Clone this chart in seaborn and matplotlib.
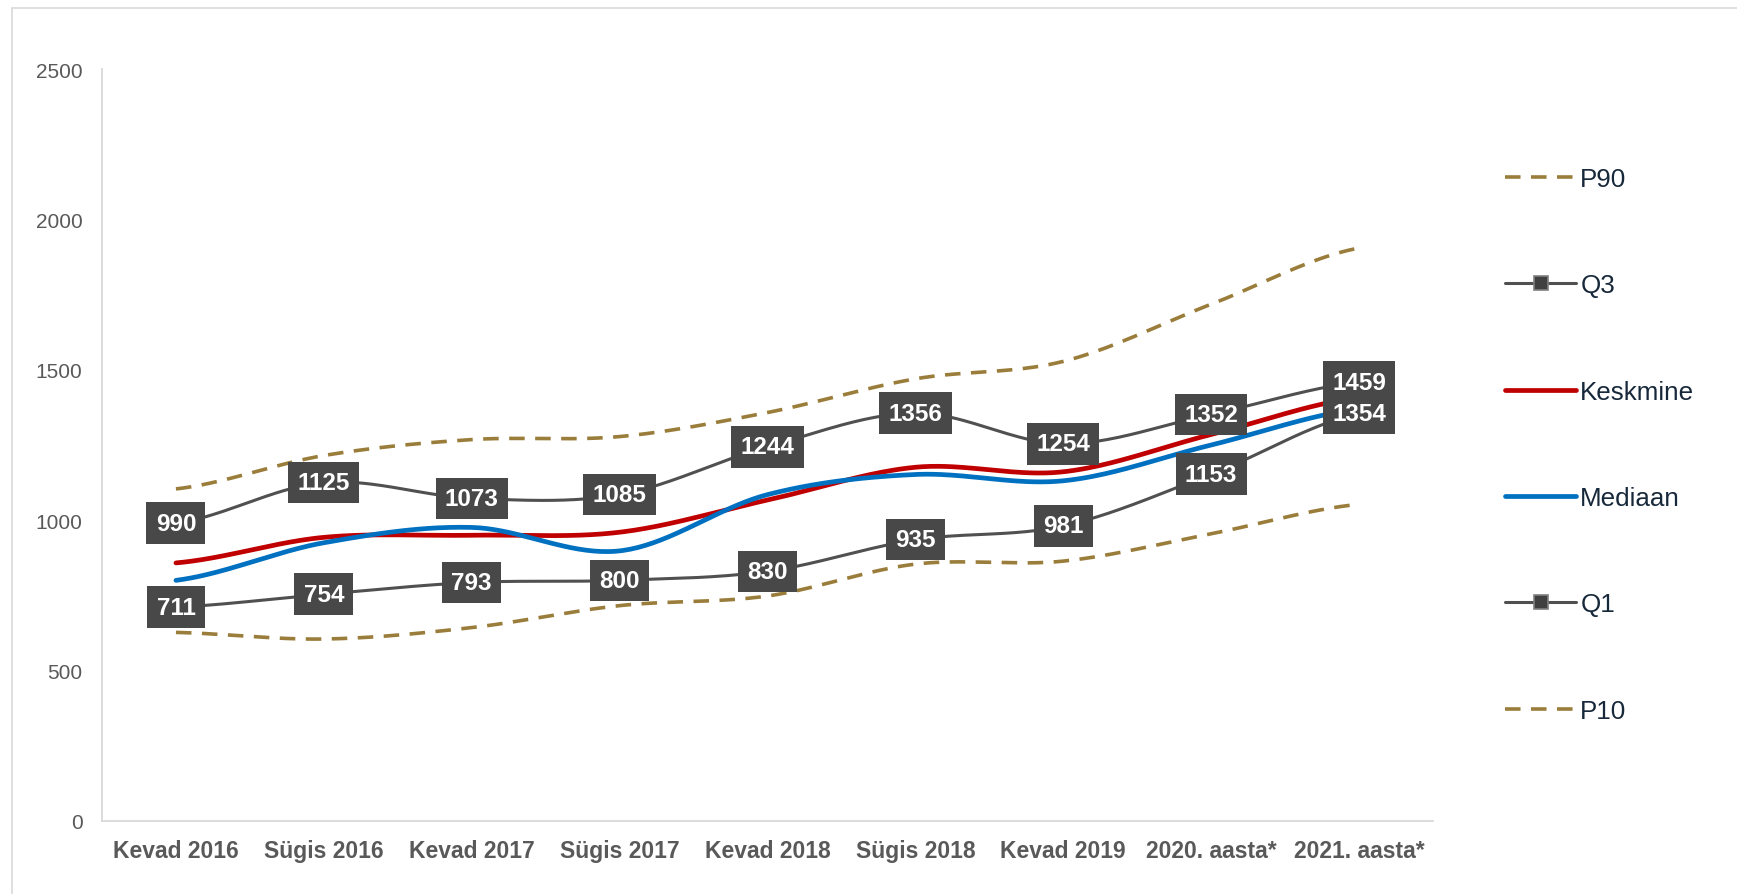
import numpy as np
import matplotlib
matplotlib.use("Agg")
import matplotlib.pyplot as plt
from matplotlib.lines import Line2D
import seaborn as sns

# ---- data ----
categories = ["Kevad 2016", "Sügis 2016", "Kevad 2017", "Sügis 2017", "Kevad 2018",
              "Sügis 2018", "Kevad 2019", "2020. aasta*", "2021. aasta*"]
p90 = [1104, 1215, 1268, 1278, 1358, 1470, 1528, 1718, 1905]
q3 = [990, 1125, 1073, 1085, 1244, 1356, 1254, 1352, 1459]
keskmine = [858, 943, 950, 960, 1067, 1176, 1161, 1285, 1408]
mediaan = [800, 925, 976, 898, 1085, 1152, 1131, 1250, 1370]
q1 = [711, 754, 793, 800, 830, 935, 981, 1153, 1354]
p10 = [627, 605, 643, 716, 748, 854, 864, 955, 1053]
yticks = [0, 500, 1000, 1500, 2000, 2500]

sns.set_theme(style="white")
plt.rcParams['font.family'] = ['Liberation Sans', 'DejaVu Sans']

W, H = 1737, 895
fig = plt.figure(figsize=(W / 100, H / 100), dpi=100)
ax = fig.add_axes([102 / W, 1 - 822 / H, (1433 - 102) / W, (822 - 70) / H])


def smooth(vals, n=40):
    y = np.asarray(vals, float)
    ext = np.concatenate([[y[0]], y, [y[-1]]])
    xs, ys = [], []
    t = np.linspace(0, 1, n, endpoint=False)
    for i in range(len(y) - 1):
        m0 = (ext[i + 2] - ext[i]) / 2
        m1 = (ext[i + 3] - ext[i + 1]) / 2
        h00 = 2 * t**3 - 3 * t**2 + 1
        h10 = t**3 - 2 * t**2 + t
        h01 = -2 * t**3 + 3 * t**2
        h11 = t**3 - t**2
        xs.append(i + t)
        ys.append(h00 * y[i] + h10 * m0 + h01 * y[i + 1] + h11 * m1)
    xs.append([len(y) - 1])
    ys.append([y[-1]])
    return np.concatenate(xs), np.concatenate(ys)


gold = '#9A7D3A'
darkgray = '#505050'
red = '#C00000'
blue = '#0070C0'
box_fc = '#484848'

series = [
    ("P90", p90, dict(color=gold, lw=2.6, dashes=(4.3, 2.9))),
    ("Q3", q3, dict(color=darkgray, lw=2.2)),
    ("Keskmine", keskmine, dict(color=red, lw=3.4)),
    ("Mediaan", mediaan, dict(color=blue, lw=3.4)),
    ("Q1", q1, dict(color=darkgray, lw=2.2)),
    ("P10", p10, dict(color=gold, lw=2.6, dashes=(4.3, 2.9))),
]

for name, vals, st in series:
    xs, ys = smooth(vals)
    sns.lineplot(x=xs, y=ys, ax=ax, sort=False, estimator=None,
                 color=st['color'], linewidth=st['lw'])
    ln = ax.lines[-1]
    if 'dashes' in st:
        ln.set_dashes(st['dashes'])
    ln.set_solid_capstyle('round')

# data labels
for vals in (q3, q1):
    for i, v in enumerate(vals):
        ax.text(i, v, f"{v}", ha='center', va='center', color='white',
                fontsize=17.5, fontweight='bold',
                bbox=dict(boxstyle='square,pad=0.38', fc=box_fc, ec='none'),
                zorder=10)

ax.set_xlim(-0.5, len(categories) - 0.5)
ax.set_ylim(0, 2500)
ax.set_xticks(range(len(categories)))
ax.set_xticklabels(categories, fontsize=16.5, fontweight='bold', color='#595959')
ax.set_yticks(yticks)
ax.set_yticklabels([str(t) for t in yticks], fontsize=15, color='#595959')
ax.tick_params(axis='both', length=0)
ax.tick_params(axis='y', pad=14)
ax.tick_params(axis='x', pad=13)
ax.set_xlabel('')
ax.set_ylabel('')
ax.grid(False)
for s in ('top', 'right'):
    ax.spines[s].set_visible(False)
for s in ('left', 'bottom'):
    ax.spines[s].set_color('#D9D9D9')
    ax.spines[s].set_linewidth(1.3)

# outer chart frame
fig.add_artist(Line2D([12 / W, 12 / W], [0, 1 - 9 / H], color='#D9D9D9', lw=1.2,
                      transform=fig.transFigure))
fig.add_artist(Line2D([12 / W, 1], [1 - 9 / H, 1 - 9 / H], color='#D9D9D9', lw=1.2,
                      transform=fig.transFigure))

# legend
handles = []
for name, vals, st in series:
    kw = dict(color=st['color'], lw=st['lw'])
    if 'dashes' in st:
        kw['dashes'] = st['dashes']
    if name in ('Q3', 'Q1'):
        kw.update(marker='s', markersize=10.5, markerfacecolor='#404040',
                  markeredgecolor='#808080', markeredgewidth=1.2)
    handles.append(Line2D([], [], label=name, **kw))
fig.legend(handles=handles, loc='upper left', bbox_to_anchor=(1505 / W, 1 - 168 / H),
           frameon=False, fontsize=18.7, labelcolor='#17283A', handlelength=2.75,
           handletextpad=0.15, labelspacing=3.17, borderpad=0, borderaxespad=0)

fig.savefig('out.png', dpi=100, facecolor='white')
